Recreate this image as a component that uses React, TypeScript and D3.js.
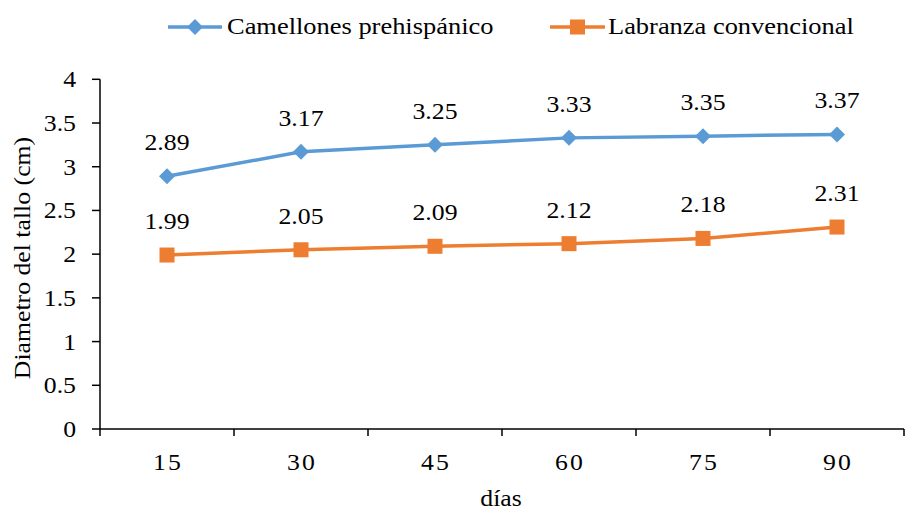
import React from "react";
import * as d3 from "d3";

const categories = ["15", "30", "45", "60", "75", "90"];
const camellones = [2.89, 3.17, 3.25, 3.33, 3.35, 3.37];
const labranza = [1.99, 2.05, 2.09, 2.12, 2.18, 2.31];
const yTicks = [0, 0.5, 1, 1.5, 2, 2.5, 3, 3.5, 4];
const seriesNames = ["Camellones prehispánico", "Labranza convencional"];
const colors = ["#5B9BD5", "#ED7D31"];

const W = 905, H = 510;
const left = 100, right = 904, top = 79.3, bottom = 429;
const FONT = "Liberation Serif";
const FS = 23;
const SX = 1.12;

function T(props: { x: number; y: number; anchor?: string; sx?: number; ls?: number; rotate?: number; children: React.ReactNode }) {
  const { x, y, anchor = "start", sx = SX, ls = 0, rotate = 0, children } = props;
  return (
    <text
      transform={`translate(${x},${y}) rotate(${rotate}) scale(${sx},1)`}
      textAnchor={anchor}
      fontFamily={FONT}
      fontSize={FS}
      letterSpacing={ls}
      fill="#000"
    >
      {children}
    </text>
  );
}

export default function App() {
  const x = d3.scaleBand<string>().domain(categories).range([left, right]);
  const y = d3.scaleLinear().domain([0, 4]).range([bottom, top]);
  const cx = (c: string) => (x(c) as number) + x.bandwidth() / 2;
  const line = d3.line<[string, number]>().x(d => cx(d[0])).y(d => y(d[1]));
  const series = [camellones, labranza];
  const boundaries = categories.map(c => x(c) as number).concat([right]);

  const diamond = (px: number, py: number, r: number) =>
    `M${px},${py - r}L${px + r},${py}L${px},${py + r}L${px - r},${py}Z`;

  return (
    <svg width={W} height={H} style={{ position: "absolute", left: 0, top: 0, background: "#fff" }}>
      <rect width={W} height={H} fill="#fff" />
      <line x1={left} x2={left} y1={top} y2={bottom} stroke="#000" strokeWidth={1.5} />
      <line x1={left} x2={right} y1={bottom} y2={bottom} stroke="#000" strokeWidth={1.5} />
      {yTicks.map(t => (
        <g key={t}>
          <line x1={left - 8} x2={left} y1={y(t)} y2={y(t)} stroke="#000" strokeWidth={1.5} />
          <T x={left - 24} y={y(t) + 8} anchor="end">{String(t)}</T>
        </g>
      ))}
      {boundaries.map((b, i) => (
        <line key={i} x1={b} x2={b} y1={bottom} y2={bottom + 7} stroke="#000" strokeWidth={1.5} />
      ))}
      {categories.map(c => (
        <T key={c} x={cx(c) + 1} y={470} anchor="middle" ls={2}>{c}</T>
      ))}
      <T x={501} y={506} anchor="middle">días</T>
      <T x={30} y={258} anchor="middle" rotate={-90}>Diametro del tallo (cm)</T>

      {series.map((s, si) => {
        const pts = categories.map((c, i) => [c, s[i]] as [string, number]);
        return (
          <g key={si}>
            <path d={line(pts) || ""} fill="none" stroke={colors[si]} strokeWidth={3.5} />
            {pts.map((p, i) => si === 0 ? (
              <path key={i} d={diamond(cx(p[0]), y(p[1]), 8)} fill={colors[si]} />
            ) : (
              <rect key={i} x={cx(p[0]) - 7.5} y={y(p[1]) - 7.5} width={15} height={15} fill={colors[si]} />
            ))}
            {pts.map((p, i) => (
              <T key={"l" + i} x={cx(p[0])} y={y(p[1]) - 26} anchor="middle">{p[1].toFixed(2)}</T>
            ))}
          </g>
        );
      })}

      <line x1={168} x2={222} y1={27} y2={27} stroke={colors[0]} strokeWidth={3.5} />
      <path d={diamond(195, 27, 8)} fill={colors[0]} />
      <T x={227} y={34} sx={1.15}>{seriesNames[0]}</T>
      <line x1={550} x2={605} y1={27} y2={27} stroke={colors[1]} strokeWidth={3.5} />
      <rect x={570} y={19.5} width={15} height={15} fill={colors[1]} />
      <T x={608} y={34} sx={1.15}>{seriesNames[1]}</T>
    </svg>
  );
}
